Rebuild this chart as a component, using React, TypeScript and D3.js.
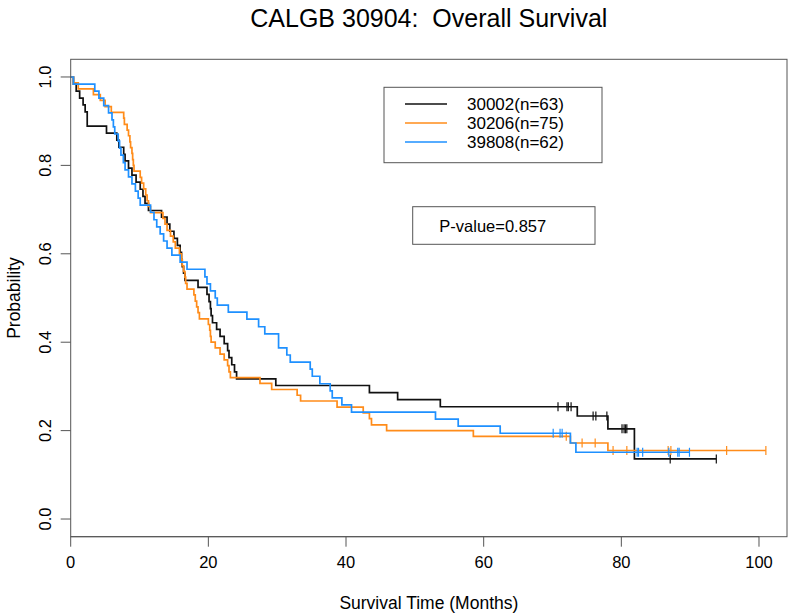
import React from 'react';
import * as d3 from 'd3';

// ---------- data ----------
const titleText = 'CALGB 30904:  Overall Survival';
const xLabel = 'Survival Time (Months)';
const yLabel = 'Probability';
const xTicks = [0, 20, 40, 60, 80, 100];
const yTicks = [0, 0.2, 0.4, 0.6, 0.8, 1.0];
const yTickLabels = ['0.0', '0.2', '0.4', '0.6', '0.8', '1.0'];
const seriesNames = ['30002(n=63)', '30206(n=75)', '39808(n=62)'];
const seriesColors = ['#111111', '#ff8c1a', '#1e90ff'];
const pValueText = 'P-value=0.857';

// 30002 (black)
const blackTimes = [0, 0.4, 0.8, 1.3, 1.8, 2.1, 2.4, 5.2, 6.7, 7.0, 7.7, 7.9, 8.4, 8.9, 9.5, 10.1, 10.5, 10.8, 11.3,
  13.2, 14.0, 14.4, 15.0, 15.5, 15.9, 16.1, 16.2, 16.4, 16.6, 18.5, 19.8, 20.1, 20.3, 20.4, 20.6, 21.2, 21.7, 22.3,
  22.8, 23.0, 23.4, 23.8, 24.1, 29.8, 43.4, 47.5, 53.7, 73.6, 78.05, 81.9];
const blackSurv = [1.0, 0.984, 0.968, 0.952, 0.937, 0.921, 0.889, 0.873, 0.857, 0.841, 0.825, 0.810, 0.794, 0.778, 0.762,
  0.746, 0.730, 0.714, 0.698, 0.683, 0.667, 0.651, 0.635, 0.619, 0.603, 0.587, 0.571, 0.556, 0.540, 0.524, 0.508, 0.492,
  0.476, 0.460, 0.444, 0.429, 0.413, 0.397, 0.381, 0.365, 0.349, 0.333, 0.317, 0.302, 0.286, 0.270, 0.254, 0.233, 0.204, 0.136];
const blackEnd = 93.8;
const blackCensor = [70.8, 72.1, 72.3, 72.7, 75.9, 76.3, 77.9, 80.1, 80.4, 80.6, 80.8, 87.1, 93.8];

// 30206 (orange)
const orangeTimes = [0, 0.4, 1.1, 3.3, 4.3, 5.0, 5.9, 7.7, 7.8, 8.2, 8.4, 8.6, 8.7, 8.9, 9.0, 9.1, 9.2, 10.1, 10.3, 10.6,
  10.9, 11.1, 11.3, 11.6, 13.4, 13.7, 14.0, 14.5, 14.9, 15.2, 15.8, 16.1, 16.2, 16.4, 16.6, 16.7, 16.9, 17.9, 18.1, 18.3,
  18.5, 18.7, 20.0, 20.2, 20.3, 20.4, 21.0, 21.7, 22.3, 22.8, 23.0, 23.2, 27.5, 29.2, 32.9, 33.4, 38.7, 42.5, 43.4, 43.7,
  45.9, 58.5, 72.6, 78.05];
const orangeSurv = [1.0, 0.987, 0.973, 0.960, 0.947, 0.933, 0.920, 0.907, 0.893, 0.880, 0.867, 0.853, 0.840, 0.827, 0.813,
  0.800, 0.787, 0.773, 0.760, 0.747, 0.733, 0.720, 0.707, 0.693, 0.680, 0.667, 0.653, 0.640, 0.627, 0.613, 0.600, 0.587,
  0.573, 0.560, 0.547, 0.533, 0.520, 0.507, 0.493, 0.480, 0.467, 0.453, 0.440, 0.427, 0.413, 0.400, 0.387, 0.373, 0.360,
  0.347, 0.333, 0.320, 0.307, 0.293, 0.280, 0.267, 0.253, 0.240, 0.227, 0.213, 0.200, 0.187, 0.172, 0.155];
const orangeEnd = 101.0;
const orangeCensor = [72.0, 74.3, 76.2, 78.8, 80.8, 86.8, 87.2, 95.3, 101.0];

// 39808 (blue)
const blueTimes = [0, 0.4, 3.5, 4.1, 4.8, 5.5, 6.0, 6.2, 6.4, 6.9, 7.1, 7.3, 7.65, 7.9, 8.4, 8.9, 9.4, 9.8, 10.1, 11.6,
  12.1, 12.5, 13.0, 13.5, 14.0, 14.7, 15.9, 16.9, 19.5, 19.8, 20.3, 21.0, 21.3, 22.9, 25.6, 27.3, 28.2, 30.2, 31.4, 31.9,
  34.8, 35.1, 36.2, 37.7, 38.0, 39.4, 40.8, 53.0, 56.3, 62.4, 72.6, 73.4];
const blueSurv = [1.0, 0.984, 0.968, 0.952, 0.935, 0.919, 0.903, 0.887, 0.871, 0.855, 0.839, 0.823, 0.806, 0.790, 0.774,
  0.758, 0.742, 0.726, 0.710, 0.694, 0.677, 0.661, 0.645, 0.629, 0.613, 0.597, 0.581, 0.565, 0.548, 0.532, 0.516, 0.500,
  0.484, 0.468, 0.452, 0.435, 0.419, 0.387, 0.371, 0.355, 0.339, 0.323, 0.306, 0.290, 0.274, 0.258, 0.242, 0.226, 0.210,
  0.194, 0.172, 0.151];
const blueEnd = 89.9;
const blueCensor = [70.1, 71.1, 71.4, 82.3, 82.5, 83.1, 86.9, 88.2, 88.4, 89.9];

const series = [
  { times: blackTimes, surv: blackSurv, end: blackEnd, censor: blackCensor },
  { times: orangeTimes, surv: orangeSurv, end: orangeEnd, censor: orangeCensor },
  { times: blueTimes, surv: blueSurv, end: blueEnd, censor: blueCensor },
];

// ---------- layout ----------
const W = 800;
const H = 613;
const box = { left: 70.7, right: 787, top: 59.3, bottom: 536.7 };
const FONT = 'Liberation Sans, Arial, Helvetica, sans-serif';

export default function App() {
  const x = d3.scaleLinear().domain([0, 104.07]).range([box.left, box.right]);
  const y = d3.scaleLinear().domain([-0.04, 1.04]).range([box.bottom, box.top]);

  const line = d3
    .line<[number, number]>()
    .x((d) => x(d[0]))
    .y((d) => y(d[1]))
    .curve(d3.curveStepAfter);

  const survAt = (s: typeof series[number], t: number) => {
    let v = s.surv[0];
    for (let i = 0; i < s.times.length; i++) if (s.times[i] <= t) v = s.surv[i];
    return v;
  };

  const axisColor = '#555';

  return (
    <svg
      width={W}
      height={H}
      style={{ position: 'absolute', left: 0, top: 0, background: '#fff' }}
      fontFamily={FONT}
    >
      <rect x={0} y={0} width={W} height={H} fill="#fff" />
      <text x={(box.left + box.right) / 2} y={27} textAnchor="middle" fontSize={25} fill="#000" style={{ whiteSpace: 'pre' }}>
        {titleText}
      </text>

      {/* curves */}
      {series.map((s, si) => {
        const pts: [number, number][] = s.times.map((t, i) => [t, s.surv[i]] as [number, number]);
        pts.push([s.end, s.surv[s.surv.length - 1]]);
        return (
          <g key={si}>
            <path d={line(pts) || ''} fill="none" stroke={seriesColors[si]} strokeWidth={1.7} />
            {s.censor.map((t, ci) => {
              const cx = x(t);
              const cy = y(survAt(s, t));
              return <line key={ci} x1={cx} x2={cx} y1={cy - 4.5} y2={cy + 4.5} stroke={seriesColors[si]} strokeWidth={1.2} />;
            })}
          </g>
        );
      })}

      {/* plot box */}
      <rect x={box.left} y={box.top} width={box.right - box.left} height={box.bottom - box.top} fill="none" stroke={axisColor} strokeWidth={1} />

      {/* x axis */}
      {xTicks.map((t) => (
        <g key={t}>
          <line x1={x(t)} x2={x(t)} y1={box.bottom} y2={box.bottom + 10} stroke={axisColor} />
          <text x={x(t)} y={568} textAnchor="middle" fontSize={16.5} fill="#000">
            {t}
          </text>
        </g>
      ))}
      <line x1={x(0)} x2={x(100)} y1={box.bottom} y2={box.bottom} stroke={axisColor} />
      <text x={(box.left + box.right) / 2} y={609} textAnchor="middle" fontSize={17.5} fill="#000">
        {xLabel}
      </text>

      {/* y axis */}
      {yTicks.map((v, i) => (
        <g key={v}>
          <line x1={box.left - 10} x2={box.left} y1={y(v)} y2={y(v)} stroke={axisColor} />
          <text transform={`translate(51,${y(v)}) rotate(-90)`} textAnchor="middle" fontSize={16.5} fill="#000">
            {yTickLabels[i]}
          </text>
        </g>
      ))}
      <text transform={`translate(20,${(box.top + box.bottom) / 2}) rotate(-90)`} textAnchor="middle" fontSize={17.5} fill="#000">
        {yLabel}
      </text>

      {/* legend */}
      <rect x={384} y={87.3} width={218} height={75.4} fill="#fff" stroke={axisColor} />
      {seriesNames.map((n, i) => {
        const ly = 104 + i * 19;
        return (
          <g key={n}>
            <line x1={405} x2={447} y1={ly} y2={ly} stroke={seriesColors[i]} strokeWidth={1.6} />
            <text x={467} y={ly} dominantBaseline="central" fontSize={17} fill="#000">
              {n}
            </text>
          </g>
        );
      })}

      {/* p-value */}
      <rect x={412.7} y={206.7} width={182.3} height={37.6} fill="#fff" stroke={axisColor} />
      <text x={439.3} y={225.5} dominantBaseline="central" fontSize={16.5} fill="#000">
        {pValueText}
      </text>
    </svg>
  );
}
